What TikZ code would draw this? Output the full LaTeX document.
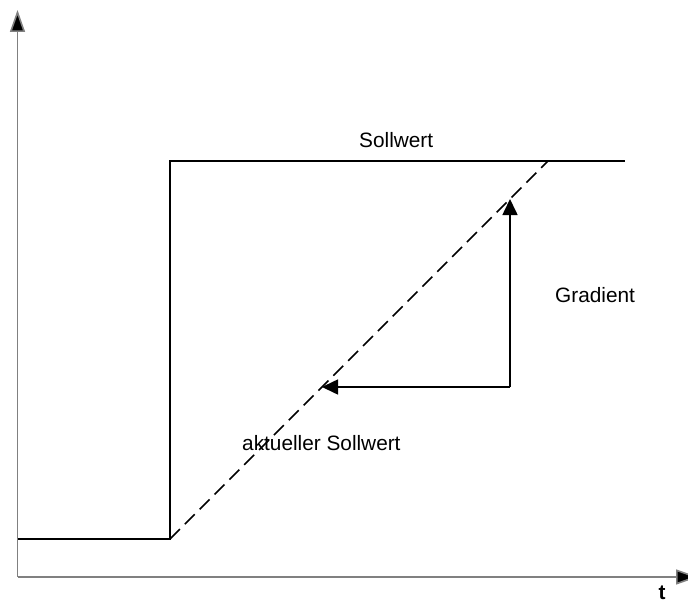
\documentclass[tikz,border=0pt]{standalone}
\usepackage{fontspec}
\setmainfont{Liberation Sans}
\usetikzlibrary{arrows.meta}
\begin{document}
\begin{tikzpicture}[x=1pt,y=-1pt,
  axisline/.style={draw={rgb,255:red,128;green,128;blue,128},line width=1.6pt,-{Triangle[length=22pt,width=15pt,fill=black]}},
  curve/.style={draw=black,line width=1.8pt},
  rampline/.style={draw=black,line width=1.6pt,dash pattern=on 14pt off 7pt},
  gradarrow/.style={draw=black,line width=1.6pt,-{Triangle[length=16pt,width=15pt]}},
  lbl/.style={font=\fontsize{20.8}{24}\selectfont,inner sep=0pt,anchor=base west}]
\useasboundingbox (0,0) rectangle (688,602);
\clip (0,0) rectangle (688,602);
% axes
\coordinate (origin) at (17.5,577);
\coordinate (ytip) at (17.5,10);
\coordinate (xtip) at (698,577);
\draw[axisline] (origin) -- (ytip);
\draw[axisline] (origin) -- (xtip);
% setpoint step
\coordinate (s0) at (17.5,539);
\coordinate (s1) at (170,539);
\coordinate (s2) at (170,161);
\coordinate (s3) at (625,161);
\draw[curve] (s0) -- (s1) -- (s2) -- (s3);
% ramp
\coordinate (r1) at (548,161);
\draw[rampline] (s1) -- (r1);
% gradient triangle
\coordinate (g0) at (510,387);
\coordinate (gtop) at (510,199);
\coordinate (gleft) at (322,387);
\draw[gradarrow] (g0) -- (gtop);
\draw[gradarrow] (g0) -- (gleft);
% labels
\node[lbl] (sollwert) at (359,147) {Sollwert};
\node[lbl] (gradient) at (555,302) {Gradient};
\node[lbl] (aktuell) at (242,450) {aktueller Sollwert};
\node[lbl,anchor=base,font=\fontsize{20.8}{24}\selectfont\bfseries] (t) at (662,599) {t};
\end{tikzpicture}
\end{document}
